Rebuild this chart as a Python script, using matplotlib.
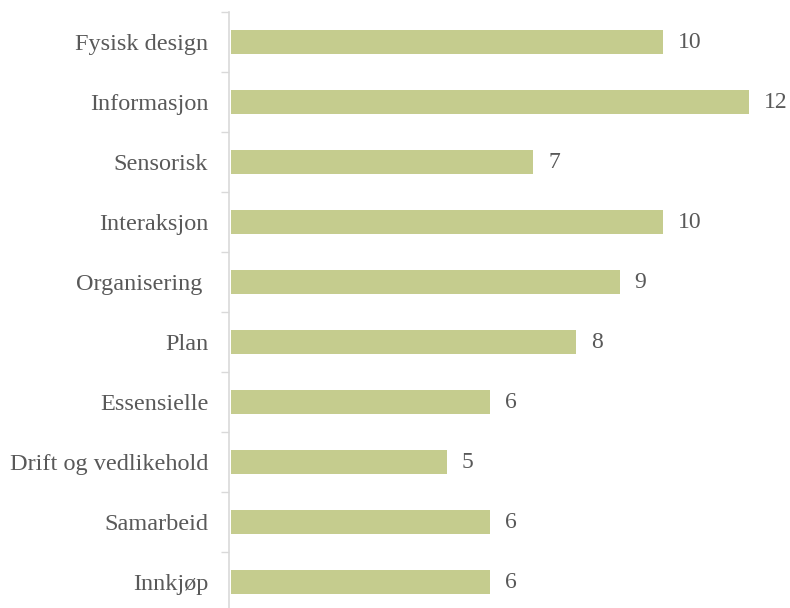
import matplotlib.pyplot as plt
import numpy as np

categories = ["Fysisk design", "Informasjon", "Sensorisk", "Interaksjon", "Organisering ",
              "Plan", "Essensielle", "Drift og vedlikehold", "Samarbeid", "Innkjøp"]
values = [10, 12, 7, 10, 9, 8, 6, 5, 6, 6]

bar_color = "#c5cc8e"
text_color = "#595959"
axis_color = "#d9d9d9"

plt.rcParams['font.family'] = ['Liberation Serif', 'DejaVu Serif']

fig = plt.figure(figsize=(7.9, 6.08), dpi=100)
ax = fig.add_axes([229 / 790, -4 / 608, 1 - 229 / 790, 600 / 608])

y = np.arange(len(categories))
bars = ax.barh(y, values, height=0.41, color=bar_color, left=0.05)

for bar, v in zip(bars, values):
    ax.text(bar.get_x() + bar.get_width() + 0.35, bar.get_y() + bar.get_height() / 2,
            str(v), ha='left', va='center', fontsize=17, color=text_color)

ax.set_xlim(0, 13)
ax.set_ylim(len(categories) - 0.5, -0.5)

# category labels in the middle, tick marks on the boundaries
ax.set_yticks(y)
ax.set_yticklabels(categories, fontsize=17.5, color=text_color)
ax.tick_params(axis='y', which='major', length=0, pad=15)
ax.set_yticks(np.arange(len(categories) + 1) - 0.5, minor=True)
ax.tick_params(axis='y', which='minor', length=6, width=1, color=axis_color, direction='out')

ax.set_xticks([])
for side in ['top', 'right', 'bottom']:
    ax.spines[side].set_visible(False)
ax.spines['left'].set_color(axis_color)
ax.spines['left'].set_linewidth(1.2)

fig.savefig("out.png", dpi=100)
